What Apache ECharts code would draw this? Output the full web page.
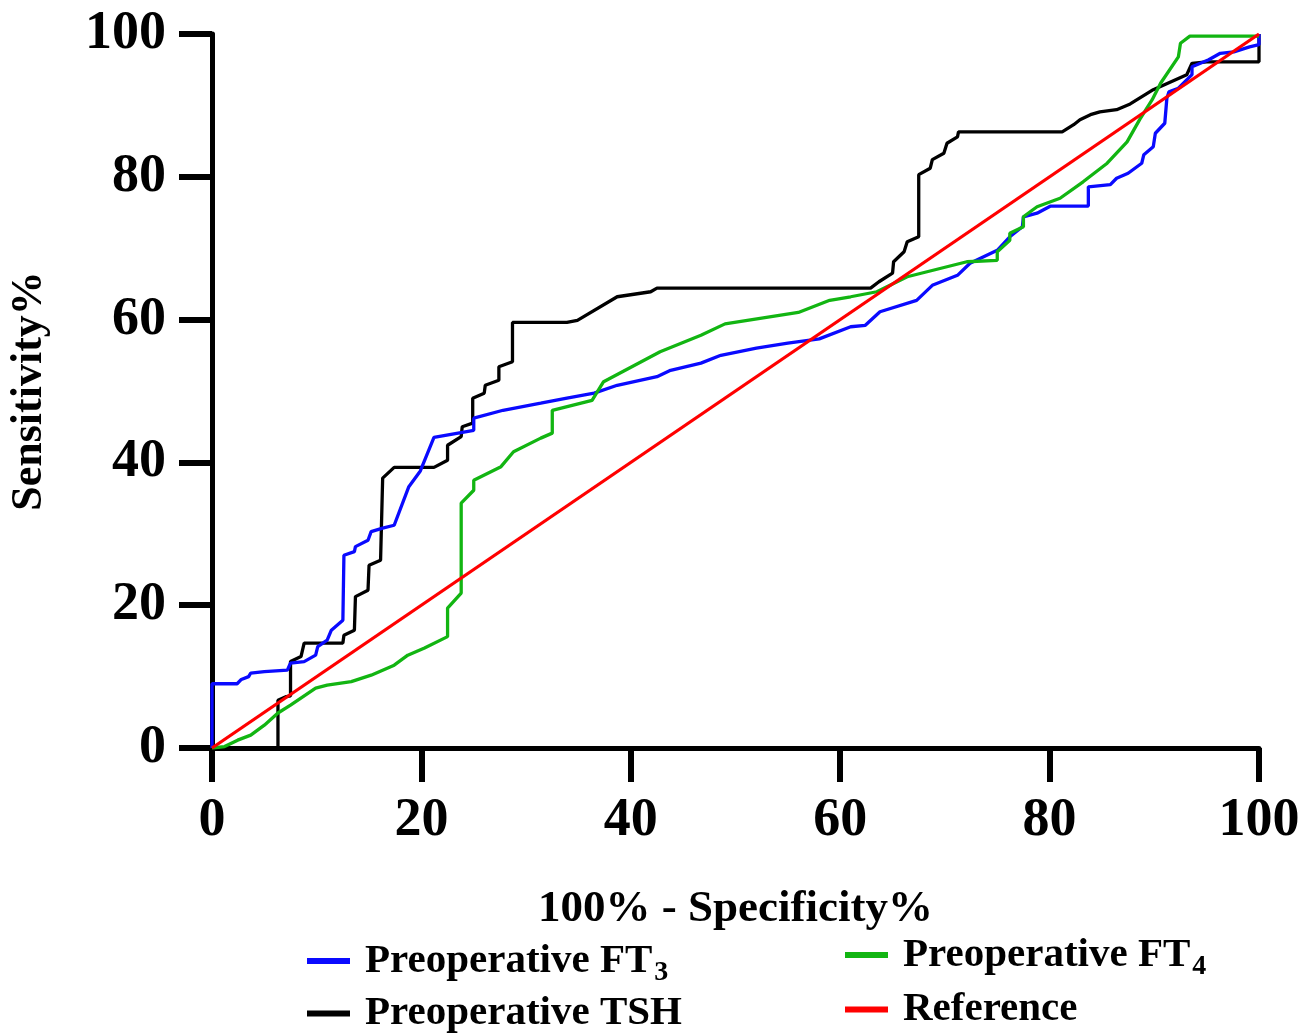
<!DOCTYPE html>
<html>
<head>
<meta charset="utf-8">
<script src="https://cdn.jsdelivr.net/npm/echarts@6/dist/echarts.min.js"></script>
<style>
html,body{margin:0;padding:0;background:#fff;}
#chart{width:1311px;height:1034px;}
</style>
</head>
<body>
<div id="chart"></div>
<script>
// ---- Data (x = 100% - Specificity%, y = Sensitivity%) ----
var xTicks = [0, 20, 40, 60, 80, 100];
var yTicks = [0, 20, 40, 60, 80, 100];

var ft3Points = [[0,0],[0,9],[2.4,9],[2.8,9.6],[3.5,10],[3.7,10.5],[5,10.7],[7.2,10.9],[7.5,11.9],[8.8,12.1],[9.9,13],[10.1,14.2],[11,15.1],[11.4,16.5],[12.5,17.9],[12.6,27],[13.6,27.5],[13.7,28.2],[14.9,29.1],[15.2,30.3],[16.3,30.8],[17.4,31.2],[18.8,36.6],[19.9,38.8],[21.2,43.5],[25,44.5],[25,46.2],[27.8,47.3],[31.4,48.3],[33.9,49],[36.5,49.7],[38.7,50.8],[42.5,52],[43.8,52.9],[46.7,53.9],[48.6,55],[52,56],[55,56.7],[58,57.3],[61,59],[62.4,59.2],[63.8,61.1],[67.3,62.7],[68.8,64.8],[71.2,66.2],[72.4,67.9],[75,69.7],[76.2,71.6],[77.4,73],[77.5,74.4],[78.8,74.9],[80.1,75.9],[83.7,75.9],[83.7,78.6],[85.8,78.9],[86.4,79.8],[87.5,80.5],[88.8,81.9],[89,83.1],[89.9,84.2],[90.1,86.1],[91,87.5],[91.2,91],[91.4,91.9],[92.3,92.4],[93.6,94.3],[93.6,95.4],[95.2,96.4],[96.3,97.3],[97.6,97.5],[99.1,98.2],[100,98.5],[100,100]];

var ft4Points = [[0,0],[1.2,0.2],[2.45,1.1],[3.7,1.8],[5,3.2],[6.3,4.9],[7.5,6],[9.9,8.4],[11,8.8],[13.3,9.3],[15.2,10.2],[17.4,11.6],[18.7,13],[20.3,14],[22.5,15.6],[22.5,19.6],[23.8,21.7],[23.8,34.3],[25,36.1],[25,37.5],[27.6,39.4],[28.8,41.5],[31.4,43.4],[32.5,44.1],[32.5,47.3],[36.3,48.7],[37.4,51.3],[42.8,55.5],[46.7,57.8],[49,59.4],[56,61],[59,62.7],[61,63.2],[63.5,63.9],[66.4,66],[72.1,68.1],[75,68.3],[75,69.5],[76.2,71.1],[76.2,72.1],[77.5,73],[77.5,74.4],[78.8,75.8],[81,77],[83.2,79.3],[85.5,81.9],[87.4,84.9],[88.6,88],[89.8,90.8],[90.6,93.1],[92.3,96.8],[92.5,98.7],[93.4,99.7],[100,99.7]];

var tshPoints = [[0,0],[6.3,0],[6.3,6.7],[7.1,7.2],[7.5,7.3],[7.5,12.1],[8.5,12.8],[8.8,14.7],[12.5,14.7],[12.6,15.8],[13.6,16.5],[13.7,21.2],[14.9,22.1],[15,25.6],[16.1,26.3],[16.3,37.8],[17.4,39.3],[21.2,39.3],[22.5,40.3],[22.5,42.4],[23.8,43.6],[23.9,45],[24.9,45.5],[24.9,49],[26,49.7],[26.1,50.8],[27.4,51.5],[27.4,53.4],[28.7,54.1],[28.7,59.6],[33.9,59.6],[34.9,59.9],[38.7,63.2],[41.9,63.9],[42.5,64.4],[62.9,64.4],[63.7,65.3],[65,66.5],[65.1,68.1],[66.1,69.5],[66.4,70.9],[67.5,71.6],[67.5,80.3],[68.6,81.2],[68.8,82.4],[69.9,83.3],[70.2,84.7],[71.2,85.6],[71.3,86.3],[81.2,86.3],[82.3,87.3],[82.9,88],[83.9,88.7],[84.8,89.1],[86.4,89.4],[87.7,90.2],[89.9,92.2],[93.1,94.3],[93.6,95.9],[95,96.1],[100,96.1],[100,100]];

var refPoints = [[0,0],[100,100]];

var seriesNames = ['Preoperative FT3', 'Preoperative FT4', 'Preoperative TSH', 'Reference'];
var seriesColors = ['#0a0aff', '#12b512', '#000000', '#ff0000'];

// ---- Chart ----
var FONT = '"Liberation Serif","Times New Roman",serif';
var chart = echarts.init(document.getElementById('chart'), null, {renderer: 'canvas'});

var legendRich = {
  n: {fontFamily: FONT, fontWeight: 'bold', fontSize: 41, color: '#000', lineHeight: 44},
  s: {fontFamily: FONT, fontWeight: 'bold', fontSize: 28, color: '#000', lineHeight: 44, padding: [24, 0, 0, 2]}
};
function legendFmt(name) {
  var m = name.match(/^(.*FT)(\d)$/);
  if (m) return '{n|' + m[1] + '}{s|' + m[2] + '}';
  return '{n|' + name + '}';
}
function makeLegend(name, left, top) {
  return {
    data: [name], left: left, top: top, padding: 0,
    itemWidth: 43, itemHeight: 6, icon: 'rect', selectedMode: false,
    formatter: legendFmt,
    textStyle: {fontFamily: FONT, fontWeight: 'bold', fontSize: 41, color: '#000', padding: [0, 0, 0, 10], rich: legendRich}
  };
}

chart.setOption({
  animation: false,
  backgroundColor: '#fff',
  grid: {left: 211, right: 52, top: 34, bottom: 286, containLabel: false},
  legend: [
    makeLegend(seriesNames[0], 307, 935),
    makeLegend(seriesNames[1], 845, 929),
    makeLegend(seriesNames[2], 307, 993),
    makeLegend(seriesNames[3], 845, 989)
  ],
  xAxis: {
    type: 'value', min: 0, max: 100, interval: 20,
    name: '100% - Specificity%', nameLocation: 'middle', nameGap: 139,
    nameTextStyle: {fontFamily: FONT, fontWeight: 'bold', fontSize: 45, color: '#000'},
    axisLine: {show: true, lineStyle: {color: '#000', width: 5}},
    axisTick: {show: true, length: 34, lineStyle: {color: '#000', width: 6}},
    axisLabel: {margin: 46, fontFamily: FONT, fontWeight: 'bold', fontSize: 54, color: '#000',
      formatter: function (v) { return xTicks.indexOf(v) >= 0 ? String(v) : ''; }},
    splitLine: {show: false}
  },
  yAxis: {
    type: 'value', min: 0, max: 100, interval: 20,
    name: 'Sensitivity%', nameLocation: 'middle', nameGap: 160,
    nameTextStyle: {fontFamily: FONT, fontWeight: 'bold', fontSize: 44, color: '#000'},
    axisLine: {show: true, lineStyle: {color: '#000', width: 5}},
    axisTick: {show: true, length: 33, lineStyle: {color: '#000', width: 6}},
    axisLabel: {margin: 46, fontFamily: FONT, fontWeight: 'bold', fontSize: 54, color: '#000',
      formatter: function (v) { return yTicks.indexOf(v) >= 0 ? String(v) : ''; }},
    splitLine: {show: false}
  },
  series: [
    {name: seriesNames[2], type: 'line', data: tshPoints, showSymbol: false, symbol: 'none',
      lineStyle: {color: seriesColors[2], width: 3.3}, itemStyle: {color: seriesColors[2]}, z: 2},
    {name: seriesNames[0], type: 'line', data: ft3Points, showSymbol: false, symbol: 'none',
      lineStyle: {color: seriesColors[0], width: 3.3}, itemStyle: {color: seriesColors[0]}, z: 3},
    {name: seriesNames[1], type: 'line', data: ft4Points, showSymbol: false, symbol: 'none',
      lineStyle: {color: seriesColors[1], width: 3.3}, itemStyle: {color: seriesColors[1]}, z: 4},
    {name: seriesNames[3], type: 'line', data: refPoints, showSymbol: false, symbol: 'none',
      lineStyle: {color: seriesColors[3], width: 3.3}, itemStyle: {color: seriesColors[3]}, z: 5}
  ]
});
</script>
</body>
</html>
